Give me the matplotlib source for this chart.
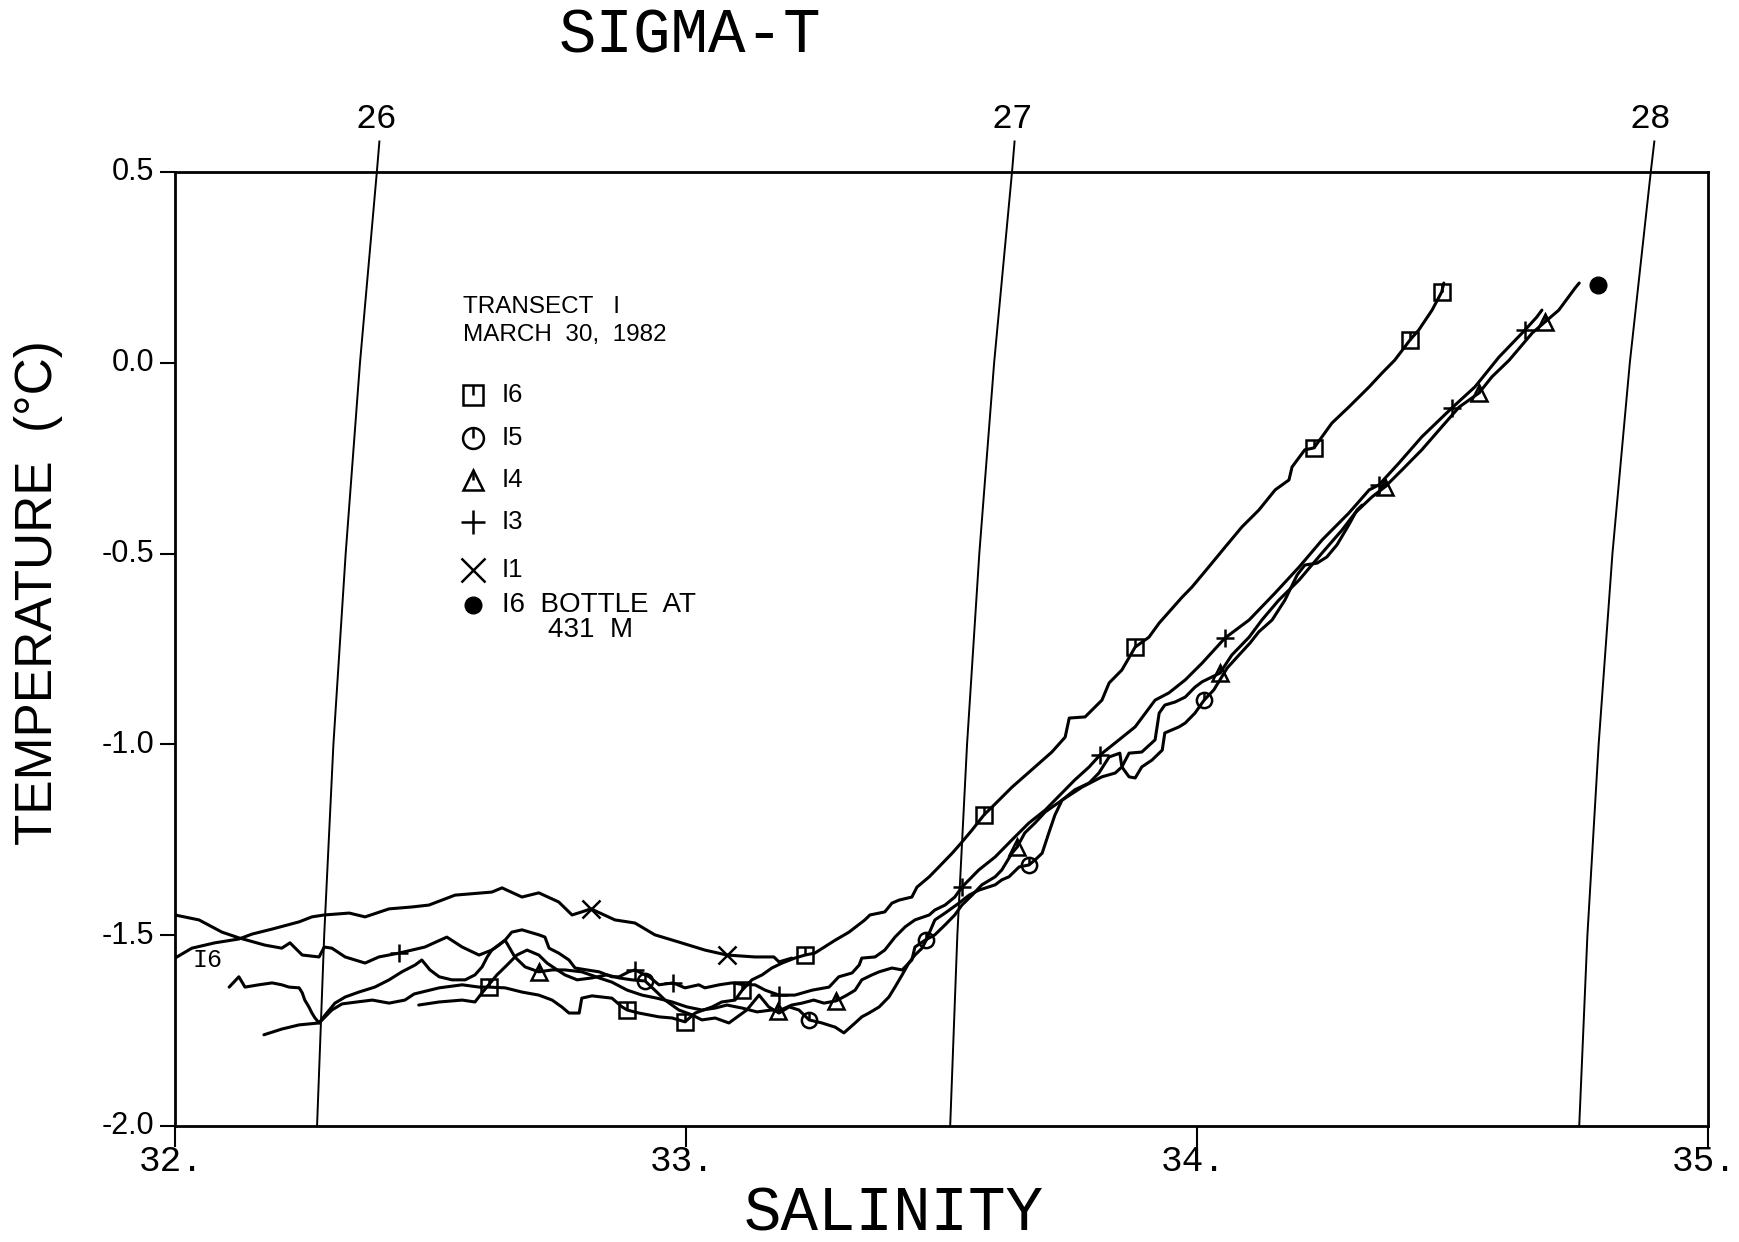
import matplotlib
matplotlib.use("Agg")
import matplotlib.pyplot as plt
from matplotlib.path import Path
from matplotlib.transforms import ScaledTranslation

# ---------------- data ----------------
x_ticks = [32, 33, 34, 35]
x_tick_labels = ["32.", "33.", "34.", "35."]
y_ticks = [0.5, 0.0, -0.5, -1.0, -1.5, -2.0]
y_tick_labels = ["0.5", "0.0", "-0.5", "-1.0", "-1.5", "-2.0"]

# sigma-t isopycnals: salinity at given temperatures
iso_T = [-2.0, -1.5, -1.0, -0.5, 0.0, 0.5, 0.58]
iso_levels = ["26", "27", "28"]
iso_S = {
    "26": [32.278, 32.292, 32.310, 32.334, 32.362, 32.395, 32.400],
    "27": [33.517, 33.531, 33.550, 33.574, 33.603, 33.638, 33.643],
    "28": [34.748, 34.764, 34.786, 34.813, 34.847, 34.888, 34.895],
}

# Station I1 (X)
I1_S = [32.000, 32.033, 32.078, 32.125, 32.151, 32.190, 32.243, 32.268, 32.292, 32.341,
        32.372, 32.419, 32.464, 32.497, 32.548, 32.620, 32.640, 32.679, 32.712, 32.751,
        32.777, 32.796, 32.814, 32.861, 32.900, 32.939, 32.986, 33.037, 33.080, 33.135,
        33.172, 33.182, 33.207]
I1_T = [-1.560, -1.534, -1.520, -1.510, -1.497, -1.484, -1.465, -1.452, -1.447, -1.442,
        -1.452, -1.431, -1.426, -1.421, -1.395, -1.387, -1.376, -1.400, -1.389, -1.413,
        -1.447, -1.439, -1.431, -1.460, -1.468, -1.499, -1.518, -1.539, -1.552, -1.557,
        -1.557, -1.570, -1.560]
I1_mS = [32.814, 33.080]
I1_mT = [-1.431, -1.552]

# Station I3 (+)
I3_S = [32.000, 32.047, 32.092, 32.125, 32.176, 32.209, 32.225, 32.249, 32.282, 32.292,
        32.307, 32.333, 32.372, 32.399, 32.438, 32.489, 32.532, 32.562, 32.595, 32.620,
        32.646, 32.659, 32.679, 32.712, 32.724, 32.732, 32.751, 32.771, 32.783, 32.806,
        32.830, 32.855, 32.869, 32.888, 32.900, 32.928, 32.947, 32.975, 32.998, 33.025,
        33.037, 33.065, 33.090, 33.115, 33.135, 33.155, 33.182, 33.213, 33.247, 33.280,
        33.299, 33.325, 33.339, 33.344, 33.370, 33.389, 33.409, 33.429, 33.448, 33.476,
        33.487, 33.507, 33.526, 33.540, 33.573, 33.605, 33.638, 33.671, 33.703, 33.722,
        33.761, 33.789, 33.810, 33.840, 33.879, 33.918, 33.945, 33.977, 34.010, 34.055,
        34.102, 34.153, 34.200, 34.245, 34.297, 34.337, 34.356, 34.395, 34.440, 34.499,
        34.544, 34.591, 34.642, 34.665, 34.675]
I3_T = [-1.447, -1.460, -1.492, -1.507, -1.526, -1.534, -1.520, -1.552, -1.557, -1.531,
        -1.534, -1.557, -1.573, -1.557, -1.547, -1.531, -1.505, -1.531, -1.552, -1.539,
        -1.513, -1.492, -1.486, -1.499, -1.505, -1.534, -1.547, -1.565, -1.586, -1.591,
        -1.596, -1.609, -1.609, -1.596, -1.591, -1.609, -1.630, -1.625, -1.638, -1.630,
        -1.638, -1.630, -1.625, -1.630, -1.630, -1.644, -1.657, -1.657, -1.644, -1.636,
        -1.609, -1.599, -1.578, -1.560, -1.557, -1.539, -1.505, -1.478, -1.460, -1.447,
        -1.434, -1.421, -1.400, -1.374, -1.329, -1.295, -1.250, -1.206, -1.172, -1.146,
        -1.093, -1.059, -1.028, -0.996, -0.954, -0.884, -0.865, -0.831, -0.787, -0.721,
        -0.674, -0.603, -0.535, -0.464, -0.394, -0.333, -0.320, -0.263, -0.194, -0.118,
        -0.063, 0.015, 0.086, 0.120, 0.138]
I3_mS = [32.438, 32.900, 32.975, 33.182, 33.540, 33.810, 34.055, 34.356, 34.499, 34.642]
I3_mT = [-1.547, -1.591, -1.625, -1.657, -1.374, -1.028, -0.721, -0.320, -0.118, 0.086]

# Station I4 (triangle)
I4_S = [32.106, 32.125, 32.137, 32.164, 32.190, 32.209, 32.223, 32.243, 32.249, 32.254,
        32.262, 32.268, 32.274, 32.282, 32.294, 32.313, 32.333, 32.360, 32.391, 32.419,
        32.444, 32.470, 32.483, 32.499, 32.517, 32.542, 32.568, 32.587, 32.601, 32.611,
        32.620, 32.634, 32.646, 32.665, 32.685, 32.712, 32.738, 32.763, 32.796, 32.830,
        32.855, 32.885, 32.914, 32.943, 32.973, 33.002, 33.031, 33.057, 33.080, 33.110,
        33.139, 33.168, 33.180, 33.207, 33.227, 33.250, 33.270, 33.294, 33.315, 33.331,
        33.344, 33.364, 33.378, 33.403, 33.423, 33.442, 33.448, 33.468, 33.487, 33.507,
        33.526, 33.540, 33.560, 33.579, 33.605, 33.618, 33.638, 33.648, 33.663, 33.683,
        33.703, 33.736, 33.775, 33.814, 33.840, 33.853, 33.867, 33.892, 33.918, 33.926,
        33.937, 33.957, 33.977, 33.996, 34.010, 34.045, 34.068, 34.102, 34.127, 34.160,
        34.200, 34.245, 34.284, 34.309, 34.342, 34.368, 34.401, 34.440, 34.479, 34.513,
        34.552, 34.577, 34.611, 34.656, 34.681, 34.708, 34.740, 34.748]
I4_T = [-1.636, -1.609, -1.636, -1.630, -1.625, -1.630, -1.636, -1.638, -1.651, -1.670,
        -1.688, -1.704, -1.717, -1.730, -1.709, -1.678, -1.662, -1.649, -1.636, -1.617,
        -1.596, -1.578, -1.565, -1.591, -1.609, -1.617, -1.617, -1.604, -1.583, -1.557,
        -1.539, -1.526, -1.513, -1.557, -1.583, -1.596, -1.591, -1.591, -1.596, -1.612,
        -1.623, -1.644, -1.657, -1.665, -1.675, -1.688, -1.696, -1.691, -1.683, -1.691,
        -1.701, -1.696, -1.699, -1.683, -1.678, -1.670, -1.678, -1.672, -1.657, -1.644,
        -1.617, -1.604, -1.596, -1.586, -1.591, -1.565, -1.531, -1.513, -1.499, -1.473,
        -1.447, -1.421, -1.395, -1.368, -1.347, -1.329, -1.285, -1.269, -1.232, -1.206,
        -1.177, -1.146, -1.112, -1.085, -1.075, -1.059, -1.023, -1.020, -0.988, -0.918,
        -0.897, -0.889, -0.876, -0.850, -0.836, -0.813, -0.766, -0.719, -0.674, -0.622,
        -0.569, -0.498, -0.438, -0.394, -0.352, -0.325, -0.281, -0.228, -0.168, -0.116,
        -0.079, -0.037, 0.007, 0.078, 0.107, 0.138, 0.196, 0.209]
I4_mS = [32.712, 33.180, 33.294, 33.648, 34.045, 34.368, 34.552, 34.681]
I4_mT = [-1.596, -1.699, -1.672, -1.269, -0.813, -0.325, -0.079, 0.107]

# Station I5 (circle)
I5_S = [32.477, 32.517, 32.562, 32.587, 32.601, 32.630, 32.650, 32.669, 32.689, 32.712,
        32.728, 32.748, 32.763, 32.787, 32.816, 32.845, 32.869, 32.894, 32.920, 32.939,
        32.959, 32.986, 33.012, 33.031, 33.057, 33.084, 33.119, 33.143, 33.162, 33.182,
        33.202, 33.221, 33.241, 33.266, 33.292, 33.309, 33.331, 33.344, 33.358, 33.378,
        33.397, 33.409, 33.423, 33.436, 33.448, 33.462, 33.470, 33.487, 33.507, 33.534,
        33.554, 33.573, 33.605, 33.618, 33.632, 33.652, 33.671, 33.683, 33.697, 33.710,
        33.722, 33.736, 33.761, 33.789, 33.808, 33.828, 33.849, 33.853, 33.867, 33.879,
        33.892, 33.912, 33.932, 33.937, 33.965, 33.977, 33.996, 34.014, 34.033, 34.059,
        34.082, 34.104, 34.121, 34.147, 34.172, 34.196, 34.211, 34.235, 34.254, 34.274,
        34.297, 34.313, 34.323]
I5_T = [-1.683, -1.675, -1.670, -1.675, -1.651, -1.604, -1.578, -1.552, -1.539, -1.552,
        -1.573, -1.591, -1.604, -1.617, -1.612, -1.604, -1.612, -1.617, -1.620, -1.644,
        -1.670, -1.696, -1.709, -1.722, -1.717, -1.730, -1.696, -1.657, -1.688, -1.704,
        -1.688, -1.696, -1.722, -1.730, -1.741, -1.756, -1.730, -1.714, -1.704, -1.688,
        -1.662, -1.636, -1.604, -1.573, -1.552, -1.534, -1.513, -1.460, -1.442, -1.416,
        -1.395, -1.382, -1.368, -1.355, -1.347, -1.321, -1.316, -1.303, -1.285, -1.232,
        -1.185, -1.146, -1.119, -1.101, -1.075, -1.033, -1.023, -1.059, -1.085, -1.088,
        -1.059, -1.041, -1.015, -0.970, -0.954, -0.944, -0.918, -0.884, -0.857, -0.800,
        -0.766, -0.734, -0.705, -0.674, -0.622, -0.556, -0.530, -0.525, -0.509, -0.477,
        -0.425, -0.386, -0.373]
I5_mS = [32.920, 33.241, 33.470, 33.671, 34.014]
I5_mT = [-1.620, -1.722, -1.513, -1.316, -0.884]

# Station I6 (square)
I6_S = [32.174, 32.209, 32.243, 32.282, 32.307, 32.327, 32.356, 32.386, 32.419, 32.450,
        32.468, 32.517, 32.562, 32.595, 32.614, 32.646, 32.679, 32.712, 32.738, 32.757,
        32.771, 32.791, 32.796, 32.816, 32.855, 32.875, 32.885, 32.908, 32.947, 32.973,
        32.998, 33.018, 33.051, 33.070, 33.096, 33.110, 33.129, 33.149, 33.168, 33.188,
        33.213, 33.233, 33.252, 33.292, 33.319, 33.350, 33.360, 33.389, 33.403, 33.417,
        33.442, 33.452, 33.476, 33.495, 33.521, 33.540, 33.560, 33.583, 33.599, 33.638,
        33.683, 33.716, 33.742, 33.750, 33.781, 33.814, 33.828, 33.853, 33.879, 33.906,
        33.926, 33.971, 33.990, 34.023, 34.055, 34.088, 34.121, 34.153, 34.180, 34.186,
        34.211, 34.229, 34.264, 34.297, 34.337, 34.362, 34.387, 34.417, 34.434, 34.460,
        34.479, 34.483]
I6_T = [-1.761, -1.746, -1.735, -1.730, -1.696, -1.680, -1.675, -1.670, -1.678, -1.670,
        -1.654, -1.638, -1.630, -1.636, -1.636, -1.638, -1.649, -1.657, -1.670, -1.688,
        -1.704, -1.704, -1.665, -1.659, -1.665, -1.688, -1.696, -1.704, -1.714, -1.717,
        -1.727, -1.704, -1.688, -1.675, -1.670, -1.644, -1.617, -1.604, -1.586, -1.573,
        -1.560, -1.552, -1.547, -1.513, -1.492, -1.460, -1.447, -1.439, -1.416, -1.408,
        -1.400, -1.374, -1.347, -1.321, -1.285, -1.256, -1.224, -1.185, -1.164, -1.112,
        -1.059, -1.020, -0.981, -0.931, -0.928, -0.884, -0.839, -0.805, -0.745, -0.719,
        -0.682, -0.614, -0.588, -0.535, -0.483, -0.430, -0.386, -0.333, -0.307, -0.273,
        -0.228, -0.223, -0.158, -0.116, -0.063, -0.027, 0.007, 0.060, 0.086, 0.138,
        0.186, 0.209]
I6_mS = [32.614, 32.885, 32.998, 33.110, 33.233, 33.583, 33.879, 34.229, 34.417, 34.479]
I6_mT = [-1.636, -1.696, -1.727, -1.644, -1.552, -1.185, -0.745, -0.223, 0.060, 0.186]

bottle_S = [34.785]
bottle_T = [0.204]

legend_rows = [("s", "I6"), ("o", "I5"), ("^", "I4"), ("+", "I3"), ("x", "I1"), ("dot", "I6  BOTTLE  AT")]

# ---------------- figure ----------------
PLOT = ["Liberation Mono", "DejaVu Sans Mono"]
SANS = ["Liberation Sans", "DejaVu Sans"]

fig = plt.figure(figsize=(17.39, 12.42), dpi=100)
fig.patch.set_facecolor("white")
ax = fig.add_axes([0.10063, 0.0934, 0.88154, 0.76812])
ax.set_xlim(32, 35)
ax.set_ylim(-2.0, 0.5)

for sp in ax.spines.values():
    sp.set_linewidth(2.0)

# isopycnals
for lev in iso_levels:
    ax.plot(iso_S[lev], iso_T, color="black", lw=1.4, clip_on=False)
    ax.text(iso_S[lev][-2], 0.64, lev, ha="center", va="center",
            fontsize=25, family=PLOT)

LW = 2.2
for S, T in [(I1_S, I1_T), (I3_S, I3_T), (I4_S, I4_T), (I5_S, I5_T), (I6_S, I6_T)]:
    ax.plot(S, T, color="black", lw=LW, solid_joinstyle="round", solid_capstyle="round")

tick_path = Path([(0, 0), (0, 1)])
MS = 11
def open_marks(S, T, m, ms=MS, tick=True, transform=None):
    kw = {} if transform is None else {"transform": transform, "clip_on": False}
    ax.plot(S, T, ls="none", marker=m, ms=ms, mfc="none", mec="black", mew=1.8, **kw)
    if tick:
        ax.plot(S, T, ls="none", marker=tick_path, ms=ms, mec="black", mew=1.8, **kw)

open_marks(I6_mS, I6_mT, "s")
open_marks(I5_mS, I5_mT, "o")
open_marks(I4_mS, I4_mT, "^")
open_marks(I3_mS, I3_mT, "+", ms=13, tick=False)
open_marks(I1_mS, I1_mT, "x", ms=13, tick=False)
ax.plot(bottle_S, bottle_T, ls="none", marker="o", ms=12, color="black")

ax.text(32.063, -1.565, "I6", ha="center", va="center", fontsize=18, family=PLOT)

# legend block (axes coords)
ax.text(0.1879, 0.8585, "TRANSECT   I", transform=ax.transAxes, ha="left", va="center",
        fontsize=17.5, family=SANS)
ax.text(0.1879, 0.8291, "MARCH  30,  1982", transform=ax.transAxes, ha="left", va="center",
        fontsize=17.5, family=SANS)
row_y = [0.7662, 0.7212, 0.6771, 0.6331, 0.5828, 0.5461]
for (m, lab), yy in zip(legend_rows, row_y):
    if m == "dot":
        ax.plot([0.1944], [yy], transform=ax.transAxes, marker="o", ms=12, color="black",
                ls="none", clip_on=False)
        fs = 20
    elif m in ("+", "x"):
        open_marks([0.1944], [yy], m, ms=17, tick=False, transform=ax.transAxes)
        fs = 18.5
    else:
        open_marks([0.1944], [yy], m, ms=15, transform=ax.transAxes)
        fs = 18.5
    ax.text(0.2133, yy, lab, transform=ax.transAxes, ha="left", va="center",
            fontsize=fs, family=SANS)
ax.text(0.2433, 0.5199, "431  M", transform=ax.transAxes, ha="left", va="center",
        fontsize=20, family=SANS)

# ticks
ax.set_xticks(x_ticks)
ax.set_xticklabels(x_tick_labels, family=PLOT, fontsize=26)
ax.set_yticks(y_ticks)
ax.set_yticklabels(y_tick_labels, family=SANS, fontsize=22)
ax.tick_params(axis="x", direction="out", length=15, width=1.5, pad=-2)
ax.tick_params(axis="y", direction="out", length=11, width=1.5, pad=4)
for lbl in ax.get_xticklabels():
    lbl.set_transform(lbl.get_transform() + ScaledTranslation(-0.04, 0, fig.dpi_scale_trans))
for lbl in ax.get_yticklabels():
    lbl.set_transform(lbl.get_transform() + ScaledTranslation(0, 0.03, fig.dpi_scale_trans))

# titles
fig.text(0.3966, 0.971, "SIGMA-T", ha="center", va="center", fontsize=45, family=PLOT)
fig.text(0.514, 0.0225, "SALINITY", ha="center", va="center", fontsize=45, family=PLOT)
fig.text(0.0224, 0.5225, "TEMPERATURE  (°C)", rotation=90, ha="center", va="center",
         fontsize=37, family=SANS)

fig.savefig("out.png", dpi=100, facecolor="white")
